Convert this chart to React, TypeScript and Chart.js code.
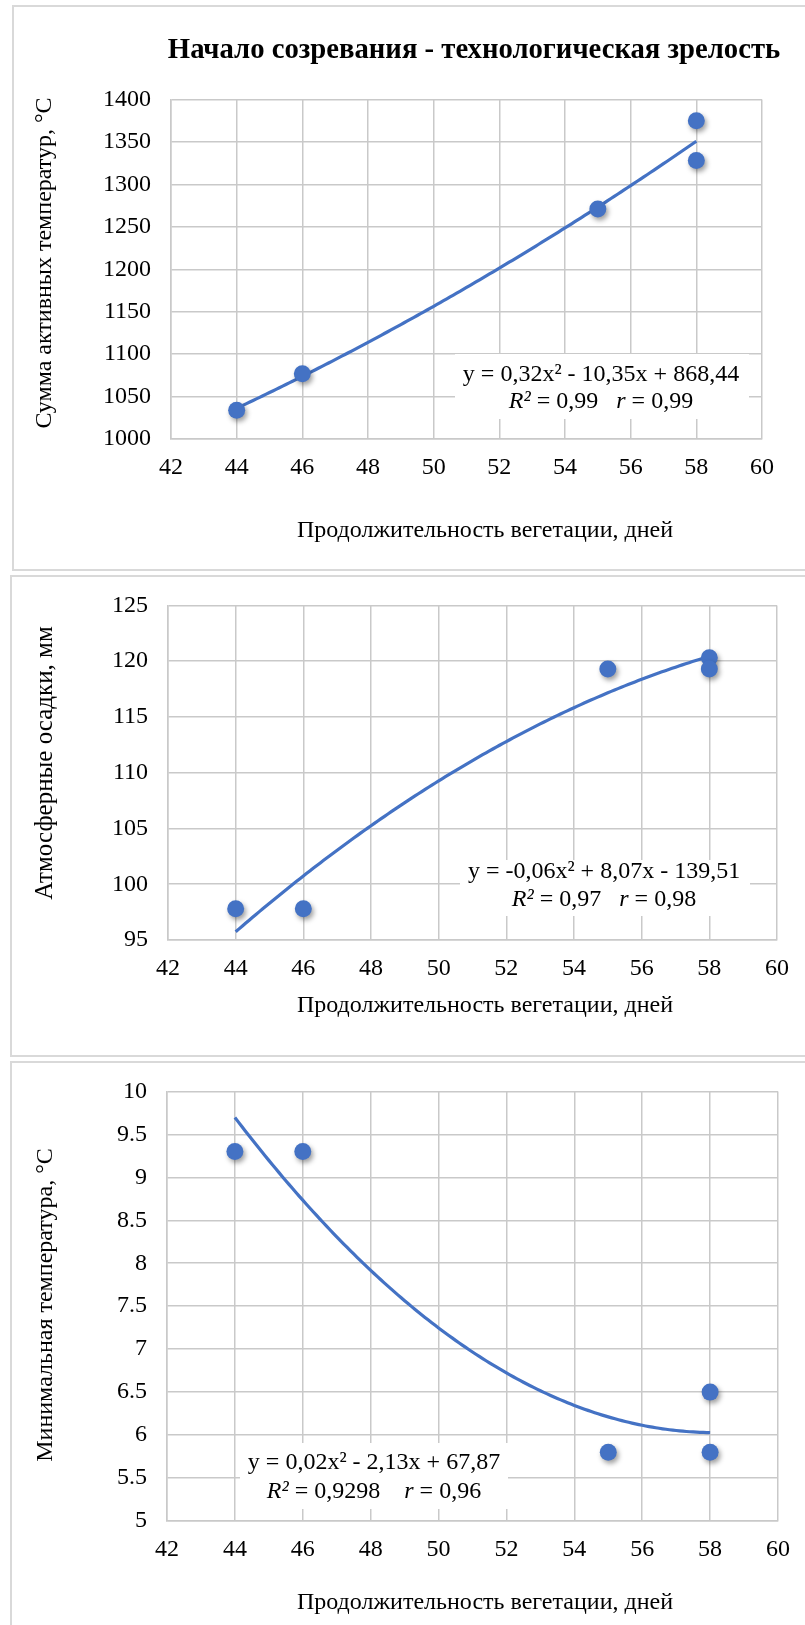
import React, { useEffect, useRef } from "react";
import { Chart, registerables } from "chart.js";

Chart.register(...registerables);

// ---------- data ----------
const days = [44, 46, 55, 58, 58];
const activeTempSum = [1034, 1077, 1271, 1375, 1328];
const precipitation = [97.8, 97.8, 119.3, 120.3, 119.3];
const minTemperature = [9.3, 9.3, 5.8, 6.5, 5.8];

const xTicks = [42, 44, 46, 48, 50, 52, 54, 56, 58, 60];
const yTicks1 = [1000, 1050, 1100, 1150, 1200, 1250, 1300, 1350, 1400];
const yTicks2 = [95, 100, 105, 110, 115, 120, 125];
const yTicks3 = [5, 5.5, 6, 6.5, 7, 7.5, 8, 8.5, 9, 9.5, 10];

const chartTitle = "Начало созревания - технологическая зрелость";
const xAxisTitle = "Продолжительность вегетации, дней";
const yAxisTitle1 = "Сумма активных температур, °С";
const yAxisTitle2 = "Атмосферные осадки, мм";
const yAxisTitle3 = "Минимальная температура, °С";

const equation1 = "y = 0,32x² - 10,35x + 868,44";
const equation2 = "y = -0,06x² + 8,07x - 139,51";
const equation3 = "y = 0,02x² - 2,13x + 67,87";
const stats1 = [["R²", true], [" = 0,99   ", false], ["r", true], [" = 0,99", false]];
const stats2 = [["R²", true], [" = 0,97   ", false], ["r", true], [" = 0,98", false]];
const stats3 = [["R²", true], [" = 0,9298    ", false], ["r", true], [" = 0,96", false]];

// ---------- styles ----------
const FONT = "'Liberation Serif', 'Times New Roman', serif";
const BLUE = "#4472C4";
const GRID = "#c9c9c9";
const TICK_SIZE = 24;

// least squares quadratic fit (trendline as computed by the spreadsheet)
function fitQuadratic(xs: number[], ys: number[]) {
  const m = xs.reduce((a, b) => a + b, 0) / xs.length;
  const A = [
    [0, 0, 0, 0],
    [0, 0, 0, 0],
    [0, 0, 0, 0],
  ];
  for (let i = 0; i < xs.length; i++) {
    const u = xs[i] - m;
    const row = [u * u, u, 1];
    for (let r = 0; r < 3; r++) {
      for (let c = 0; c < 3; c++) A[r][c] += row[r] * row[c];
      A[r][3] += row[r] * ys[i];
    }
  }
  for (let p = 0; p < 3; p++) {
    let best = p;
    for (let r = p + 1; r < 3; r++) if (Math.abs(A[r][p]) > Math.abs(A[best][p])) best = r;
    [A[p], A[best]] = [A[best], A[p]];
    for (let r = 0; r < 3; r++) {
      if (r === p) continue;
      const f = A[r][p] / A[p][p];
      for (let c = p; c < 4; c++) A[r][c] -= f * A[p][c];
    }
  }
  const a = A[0][3] / A[0][0];
  const b = A[1][3] / A[1][1];
  const c = A[2][3] / A[2][2];
  return (x: number) => {
    const u = x - m;
    return a * u * u + b * u + c;
  };
}

function trendPoints(xs: number[], ys: number[]) {
  const f = fitQuadratic(xs, ys);
  const lo = Math.min(...xs);
  const hi = Math.max(...xs);
  const pts: { x: number; y: number }[] = [];
  const n = 140;
  for (let i = 0; i <= n; i++) {
    const x = lo + ((hi - lo) * i) / n;
    pts.push({ x, y: f(x) });
  }
  return pts;
}

function drawRich(ctx: CanvasRenderingContext2D, segs: any[], cx: number, cy: number, size: number) {
  const widths = segs.map((s) => {
    ctx.font = `${s[1] ? "italic " : ""}${size}px ${FONT}`;
    return ctx.measureText(s[0]).width;
  });
  const total = widths.reduce((a, b) => a + b, 0);
  let x = cx - total / 2;
  ctx.textAlign = "left";
  ctx.textBaseline = "middle";
  segs.forEach((s, i) => {
    ctx.font = `${s[1] ? "italic " : ""}${size}px ${FONT}`;
    ctx.fillText(s[0], x, cy);
    x += widths[i];
  });
}

const textPlugin = {
  id: "panelText",
  beforeDatasetsDraw(chart: any, _args: any, opts: any) {
    const ctx = chart.ctx as CanvasRenderingContext2D;
    const e = opts.eq;
    if (!e) return;
    ctx.save();
    ctx.fillStyle = "#ffffff";
    ctx.fillRect(e.box[0], e.box[1], e.box[2] - e.box[0], e.box[3] - e.box[1]);
    ctx.fillStyle = "#000000";
    drawRich(ctx, [[e.line1, false]], e.cx, e.y1, TICK_SIZE);
    drawRich(ctx, e.line2, e.cx, e.y2, TICK_SIZE);
    ctx.restore();
  },
  afterDraw(chart: any, _args: any, opts: any) {
    const ctx = chart.ctx as CanvasRenderingContext2D;
    ctx.save();
    ctx.fillStyle = "#000000";
    ctx.textAlign = "center";
    ctx.textBaseline = "middle";
    if (opts.title) {
      ctx.font = `bold ${opts.title.size}px ${FONT}`;
      ctx.fillText(opts.title.text, opts.title.x, opts.title.y);
    }
    if (opts.xTitle) {
      ctx.font = `${TICK_SIZE}px ${FONT}`;
      ctx.fillText(opts.xTitle.text, opts.xTitle.x, opts.xTitle.y);
    }
    if (opts.yTitle) {
      ctx.font = `${opts.yTitle.size || TICK_SIZE}px ${FONT}`;
      ctx.translate(opts.yTitle.x, opts.yTitle.y);
      ctx.rotate(-Math.PI / 2);
      ctx.fillText(opts.yTitle.text, 0, 0);
    }
    ctx.restore();
  },
};

const shadowPlugin = {
  id: "pointShadow",
  beforeDatasetDraw(chart: any, args: any) {
    if (args.index !== 0) return;
    const ctx = chart.ctx as CanvasRenderingContext2D;
    ctx.save();
    ctx.shadowColor = "rgba(0,0,0,0.38)";
    ctx.shadowBlur = 5;
    ctx.shadowOffsetX = 2;
    ctx.shadowOffsetY = 3;
  },
  afterDatasetDraw(chart: any, args: any) {
    if (args.index !== 0) return;
    chart.ctx.restore();
  },
};

type PanelProps = {
  top: number;
  height: number;
  borderLeft: number;
  values: number[];
  yTicks: number[];
  area: { left: number; right: number; top: number; bottom: number };
  title?: { text: string; x: number; y: number; size: number };
  xTitle: { text: string; x: number; y: number };
  yTitle: { text: string; x: number; y: number; size?: number };
  eq: any;
};

const WIDTH = 805;

function Panel(p: PanelProps) {
  const ref = useRef<HTMLCanvasElement | null>(null);
  useEffect(() => {
    if (!ref.current) return;
    const scatter = days.map((d, i) => ({ x: d, y: p.values[i] }));
    const trend = trendPoints(days, p.values);
    const yMin = p.yTicks[0];
    const yMax = p.yTicks[p.yTicks.length - 1];
    const yStep = p.yTicks[1] - p.yTicks[0];
    const chart = new Chart(ref.current, {
      type: "scatter",
      data: {
        datasets: [
          {
            data: scatter,
            pointRadius: 8.5,
            pointBackgroundColor: BLUE,
            pointBorderColor: BLUE,
            pointBorderWidth: 0,
            showLine: false,
          },
          {
            data: trend,
            showLine: true,
            borderColor: BLUE,
            borderWidth: 3.2,
            pointRadius: 0,
            tension: 0,
            fill: false,
          },
        ],
      },
      options: {
        responsive: false,
        animation: false,
        events: [],
        layout: {
          padding: { left: 0, top: p.area.top, right: WIDTH - p.area.right, bottom: 0 },
        },
        plugins: {
          legend: { display: false },
          title: { display: false },
          tooltip: { enabled: false },
          panelText: { title: p.title, xTitle: p.xTitle, yTitle: p.yTitle, eq: p.eq },
        } as any,
        scales: {
          x: {
            type: "linear",
            min: xTicks[0],
            max: xTicks[xTicks.length - 1],
            afterFit: (s: any) => {
              s.height = p.height - p.area.bottom;
            },
            afterBuildTicks: (s: any) => {
              s.ticks = xTicks.map((v) => ({ value: v }));
            },
            grid: { color: GRID, lineWidth: 1.5, drawTicks: false },
            border: { display: true, color: GRID, width: 1.5 },
            ticks: {
              autoSkip: false,
              maxRotation: 0,
              padding: 14,
              color: "#000",
              font: { family: FONT, size: TICK_SIZE },
              callback: (v: any) => String(v),
            },
          },
          y: {
            type: "linear",
            min: yMin,
            max: yMax,
            afterFit: (s: any) => {
              s.width = p.area.left;
            },
            afterBuildTicks: (s: any) => {
              s.ticks = p.yTicks.map((v) => ({ value: v }));
            },
            grid: { color: GRID, lineWidth: 1.5, drawTicks: false },
            border: { display: true, color: GRID, width: 1.5 },
            ticks: {
              stepSize: yStep,
              padding: 20,
              color: "#000",
              font: { family: FONT, size: TICK_SIZE },
              callback: (v: any) => String(v),
            },
          },
        },
      },
      plugins: [textPlugin as any, shadowPlugin as any],
    });
    return () => chart.destroy();
  }, []);
  return (
    <>
      <div
        style={{
          position: "absolute",
          left: p.borderLeft,
          top: p.top + 4,
          width: WIDTH + 40,
          height: p.height - 8,
          border: "2px solid #d9d9d9",
          background: "#fff",
        }}
      />
      <canvas
        ref={ref}
        width={WIDTH}
        height={p.height}
        style={{ position: "absolute", left: 0, top: p.top, width: WIDTH, height: p.height }}
      />
    </>
  );
}

export default function App() {
  return (
    <div
      style={{
        position: "absolute",
        left: 0,
        top: 0,
        width: WIDTH,
        height: 1625,
        overflow: "hidden",
        background: "#fff",
      }}
    >
      <Panel
        top={1}
        height={570}
        borderLeft={12}
        values={activeTempSum}
        yTicks={yTicks1}
        area={{ left: 171, right: 762, top: 98.5, bottom: 438 }}
        title={{ text: chartTitle, x: 474, y: 50, size: 28.7 }}
        xTitle={{ text: xAxisTitle, x: 485, y: 530 }}
        yTitle={{ text: yAxisTitle1, x: 45, y: 262 }}
        eq={{ box: [455, 353, 749, 418], cx: 601, y1: 374, y2: 401, line1: equation1, line2: stats1 }}
      />
      <Panel
        top={571}
        height={486}
        borderLeft={10}
        values={precipitation}
        yTicks={yTicks2}
        area={{ left: 168, right: 777, top: 26, bottom: 369 }}
        xTitle={{ text: xAxisTitle, x: 485, y: 435 }}
        yTitle={{ text: yAxisTitle2, x: 45, y: 192, size: 25 }}
        eq={{ box: [460, 289, 750, 345], cx: 604, y1: 301, y2: 329, line1: equation2, line2: stats2 }}
      />
      <Panel
        top={1057}
        height={600}
        borderLeft={10}
        values={minTemperature}
        yTicks={yTicks3}
        area={{ left: 167, right: 778, top: 30.5, bottom: 464 }}
        xTitle={{ text: xAxisTitle, x: 485, y: 546 }}
        yTitle={{ text: yAxisTitle3, x: 46, y: 248 }}
        eq={{ box: [240, 386, 508, 452], cx: 374, y1: 406, y2: 435, line1: equation3, line2: stats3 }}
      />
    </div>
  );
}
